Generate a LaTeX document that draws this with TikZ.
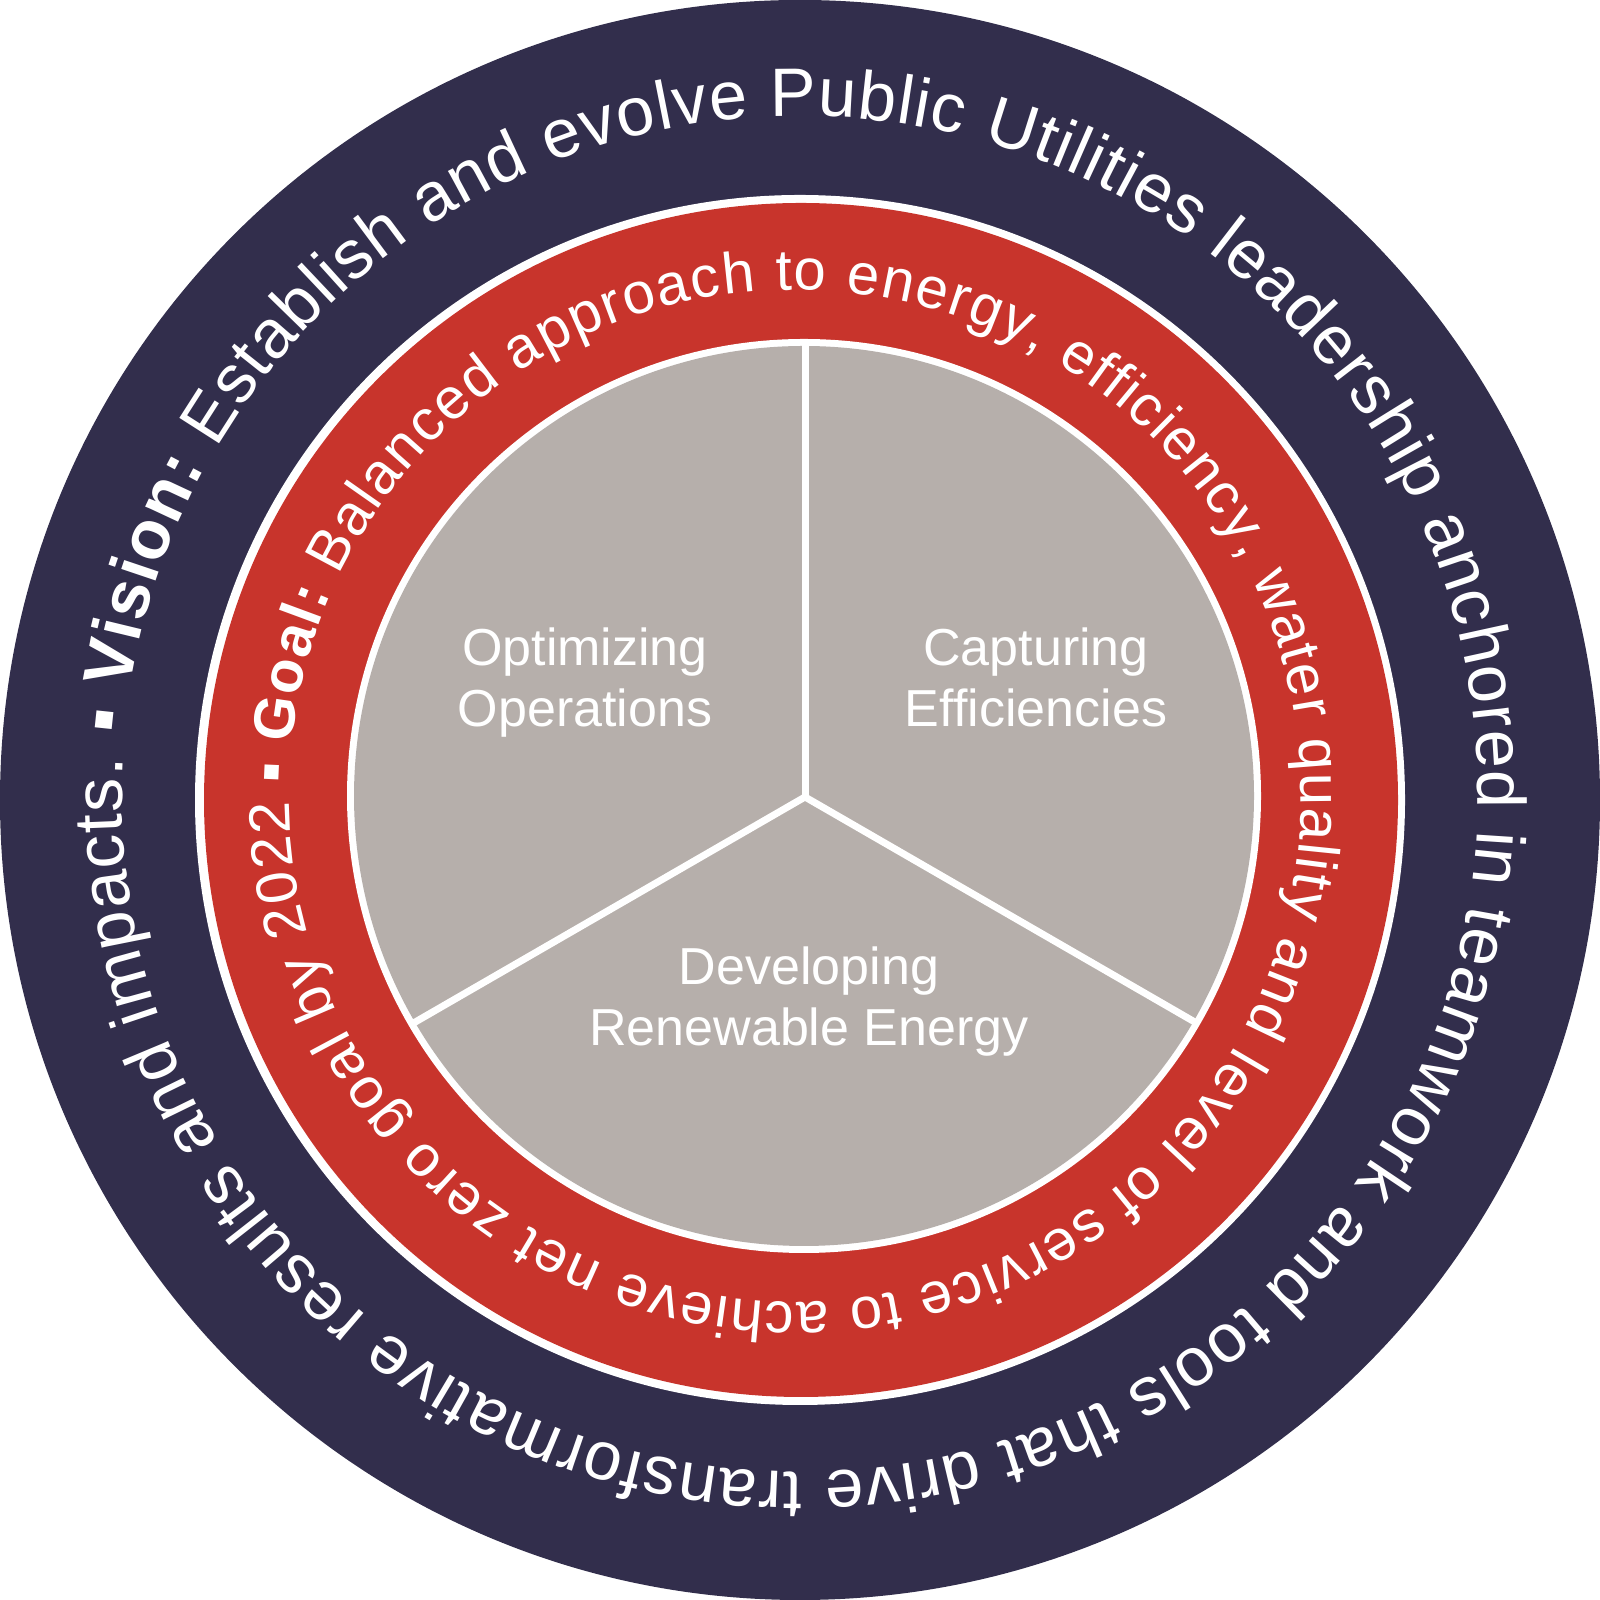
\documentclass[tikz,border=0pt]{standalone}
\usepackage{fontspec}
\setmainfont{Liberation Sans}
\usetikzlibrary{decorations.text,calc}
\definecolor{navy}{RGB}{50,46,76}
\definecolor{ringred}{RGB}{200,52,44}
\definecolor{pie}{RGB}{182,175,171}
\newcommand\ofmt{\fontsize{19.5}{23}\selectfont\mdseries\color{white}}
\newcommand\ofmb{\fontsize{19.5}{23}\selectfont\bfseries\color{white}}
\newcommand\rfmt{\fontsize{16.5}{20}\selectfont\mdseries\color{white}}
\newcommand\rfmb{\fontsize{16.5}{20}\selectfont\bfseries\color{white}}
\begin{document}
\begin{tikzpicture}[
  pielabel/.style={text=white, font=\fontsize{14.8}{17.6}\selectfont, align=center, anchor=base, inner sep=0pt},
  spoke/.style={white, line width=0.07cm},
]
\useasboundingbox (0,0) rectangle (16,16);
\fill[navy] (8,8) circle (8);
\fill[white] (8,8) circle (6.05);
\fill[ringred] (8.01,8) circle (5.97);
\fill[white] (8.04,8.04) circle (4.57);
\fill[pie] (8.04,8.04) circle (4.50);
\coordinate (hub) at (8.05,8.03);
\coordinate (s1) at ($(hub)+(90:4.52)$);
\coordinate (s2) at ($(hub)+(210:4.52)$);
\coordinate (s3) at ($(hub)+(330:4.52)$);
\draw[spoke] (hub) -- (s1);
\draw[spoke] (hub) -- (s2);
\draw[spoke] (hub) -- (s3);
\path[decorate, decoration={text along path, text align=fit to path,
  text={|\ofmt|▪ |\ofmb|Vision:|\ofmt| Establish and evolve Public Utilities leadership anchored in teamwork and tools that drive transformative results and impacts.}}]
  ([shift={(8,8.06)}]175:6.78) arc[start angle=175, end angle=-183, radius=6.78];
\path[decorate, decoration={text along path, text align=fit to path,
  text={|\rfmt|▪ |\rfmb|Goal:|\rfmt| Balanced approach to energy, efficiency, water quality and level of service to achieve net zero goal by 2022}}]
  ([shift={(7.95,8.04)}]178.6:5.06) arc[start angle=178.6, end angle=-179.4, radius=5.06];
\node[pielabel] (opt) at (5.85,8.73) {Optimizing\\Operations};
\node[pielabel] (cap) at (10.36,8.73) {Capturing\\Efficiencies};
\node[pielabel] (dev) at (8.09,5.54) {Developing\\Renewable Energy};
\end{tikzpicture}
\end{document}
